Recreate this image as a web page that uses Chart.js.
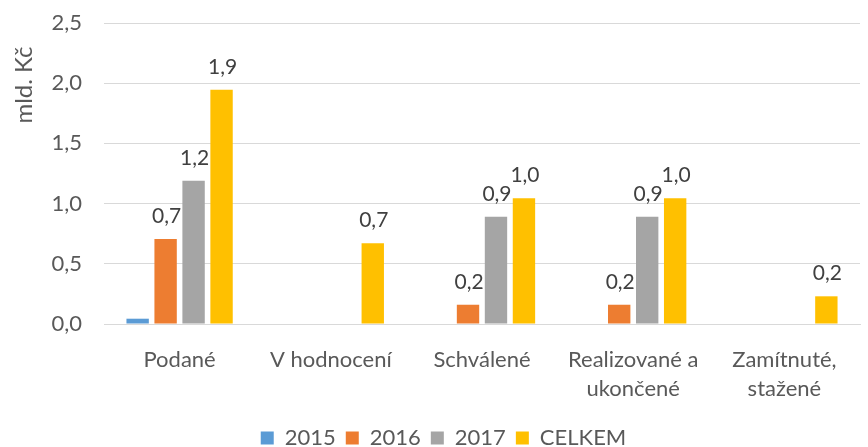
<!DOCTYPE html>
<html lang="cs">
<head>
<meta charset="utf-8">
<script src="https://cdn.jsdelivr.net/npm/chart.js@4"></script>
<style>
    html, body { margin: 0; padding: 0; background: #ffffff; }
    #graf { width: 868px; height: 447px; position: relative; }
</style>
</head>
<body>
<div id="graf"><canvas id="graficProjekty"></canvas></div>
<script>
const kategorie = ["Podané", "V hodnocení", "Schválené", ["Realizované a", "ukončené"], ["Zamítnuté,", "stažené"]];
const roky = ["2015", "2016", "2017", "CELKEM"];
const hodnoty2015 = [0.044, null, null, null, null];
const hodnoty2016 = [0.705, null, 0.16, 0.16, null];
const hodnoty2017 = [1.19, null, 0.89, 0.89, null];
const hodnotyCelkem = [1.945, 0.67, 1.045, 1.045, 0.23];
const barvy = ["#5B9BD5", "#ED7D31", "#A5A5A5", "#FFC000"];
const popisky = [false, true, true, true];
const osaY = [0, 0.5, 1.0, 1.5, 2.0, 2.5];

const pismo = "Lato, 'Open Sans', sans-serif";

function formatCislo(v) {
    return v.toFixed(1).replace(".", ",");
}

// popisky hodnot nad sloupci
const popiskyPlugin = {
    id: "popiskyHodnot",
    afterDatasetsDraw(chart) {
        const ctx = chart.ctx;
        ctx.save();
        ctx.font = "21px " + pismo;
        ctx.fillStyle = "#404040";
        ctx.textAlign = "center";
        ctx.textBaseline = "alphabetic";
        chart.data.datasets.forEach(function(ds, i) {
            if (!popisky[i]) return;
            chart.getDatasetMeta(i).data.forEach(function(bar, j) {
                const v = ds.data[j];
                if (v === null || v === undefined) return;
                ctx.fillText(formatCislo(v), bar.x + 1, bar.y - 16);
            });
        });
        ctx.restore();
    }
};

// nazev osy Y nahore vlevo
const nazevOsyPlugin = {
    id: "nazevOsy",
    afterDraw(chart) {
        const ctx = chart.ctx;
        ctx.save();
        ctx.font = "24px " + pismo;
        ctx.fillStyle = "#595959";
        ctx.textAlign = "center";
        ctx.textBaseline = "middle";
        ctx.translate(24, chart.chartArea.top + 62);
        ctx.rotate(-Math.PI / 2);
        ctx.fillText("mld. Kč", 0, 0);
        ctx.restore();
    }
};

const serie = [hodnoty2015, hodnoty2016, hodnoty2017, hodnotyCelkem];

new Chart(document.getElementById("graficProjekty"), {
    type: "bar",
    data: {
        labels: kategorie,
        datasets: serie.map(function(d, i) {
            return {
                label: roky[i],
                data: d,
                backgroundColor: barvy[i],
                borderWidth: 0,
                categoryPercentage: 0.74,
                barPercentage: 0.8
            };
        })
    },
    options: {
        responsive: true,
        maintainAspectRatio: false,
        animation: false,
        layout: {
            padding: { top: 23, right: 8, bottom: -12, left: 27 }
        },
        plugins: {
            legend: {
                position: "bottom",
                labels: {
                    boxWidth: 13,
                    boxHeight: 13,
                    padding: 10,
                    color: "#595959",
                    font: { family: pismo, size: 22 }
                }
            },
            tooltip: { enabled: false }
        },
        scales: {
            x: {
                grid: { display: false },
                border: { color: "#D9D9D9", width: 1 },
                ticks: {
                    color: "#595959",
                    font: { family: pismo, size: 22, lineHeight: 1.3 },
                    padding: 14,
                    maxRotation: 0,
                    autoSkip: false
                },
                afterFit: function(scale) {
                    scale.height = 93;
                    scale.paddingTop = 0;
                    scale.paddingBottom = 0;
                }
            },
            y: {
                min: 0,
                max: 2.5,
                afterBuildTicks: function(scale) {
                    scale.ticks = osaY.map(function(v) { return { value: v }; });
                },
                grid: { color: "#D9D9D9", drawTicks: false },
                border: { display: false },
                ticks: {
                    color: "#595959",
                    font: { family: pismo, size: 22 },
                    padding: 22,
                    callback: function(v) { return formatCislo(v); }
                },
                afterFit: function(scale) {
                    scale.width = 77;
                    scale.paddingTop = 0;
                    scale.paddingBottom = 0;
                }
            }
        }
    },
    plugins: [popiskyPlugin, nazevOsyPlugin]
});
</script>
</body>
</html>
